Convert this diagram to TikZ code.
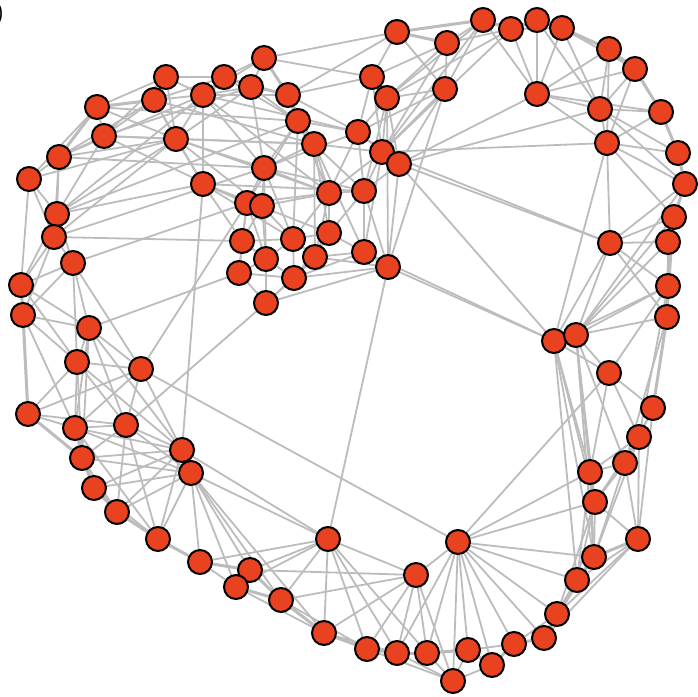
\documentclass[tikz,border=0pt]{standalone}
\usepackage{tikz}
\pgfdeclarelayer{bg}
\pgfsetlayers{bg,main}
\definecolor{nodered}{RGB}{232,66,32}
\definecolor{edgegray}{RGB}{188,188,188}
\tikzset{
  vtx/.style={circle, fill=nodered, draw=black, line width=2pt, minimum size=24pt, inner sep=0pt},
  lnk/.style={draw=edgegray, line width=1.8pt},
  lnkthick/.style={draw=edgegray, line width=3pt},
  lbl/.style={font=\sffamily\fontsize{22}{22}\selectfont, inner sep=0pt}
}
\begin{document}
\begin{tikzpicture}[x=1pt,y=-1pt]
\useasboundingbox (0,0) rectangle (697,697);
\node[lbl, anchor=east] (tag) at (4,14) {)};
\foreach \n/\x/\y in {a1/264/58,a2/166/77,a3/224/77,a4/154/100,a5/203/95,a6/251/87,a7/288/95,a8/97/107,a9/104/136,a10/176/139,
a11/298/121,a12/314/144,a13/59/157,a14/29/179,a15/203/184,a16/264/168,a17/57/214,a18/54/237,a19/73/263,a20/21/285,
a21/23/315,a22/89/328,a23/77/362,a24/141/369,a25/28/414,a26/75/428,a27/126/425,a28/82/458,a29/94/488,a30/117/512,
a31/158/539,a32/182/450,a33/191/473,a34/200/562,a35/250/570,a36/236/587,a37/281/600,a38/328/539,a39/324/633,
c1/247/203,c2/262/206,c3/329/193,c4/242/241,c5/293/239,c6/329/233,c7/266/259,c8/315/257,c9/239/273,c10/294/278,
c11/266/303,c12/358/132,c13/382/152,c14/399/164,c15/364/191,c16/364/252,c17/388/267,c18/372/77,c19/387/98,c20/397/32,
c21/447/43,c22/445/89,
r1/483/20,r2/511/29,r3/537/20,r4/562/28,r5/609/49,r6/635/69,r7/537/94,r8/600/109,r9/661/112,r10/607/143,
r11/678/153,r12/685/184,r13/674/217,r14/610/243,r15/668/242,r16/668/286,r17/667/317,r18/554/341,r19/576/335,r20/609/373,
r21/653/408,r22/639/437,r23/625/463,r24/590/472,r25/595/502,r26/638/539,r27/594/557,r28/577/580,r29/557/614,r30/544/638,
b1/458/542,b2/416/575,b3/367/649,b4/397/653,b5/427/653,b6/468/650,b7/492/665,b8/514/644,b9/453/681}
  \node[vtx] (\n) at (\x,\y) {};
\begin{pgfonlayer}{bg}
\fill[white] (0,0) rectangle (697,697);
\foreach \u/\v in {a1/a3,a1/a6,a1/a5,a1/c20,a1/c18,
a2/a3,a2/a4,a2/a5,a2/a8,a2/a9,a2/a10,
a3/a5,a3/a6,a3/a7,a3/a4,a3/a11,
a4/a5,a4/a8,a4/a9,a4/a10,a4/a15,a4/a13,a4/a12,
a5/a6,a5/a10,a5/a15,a5/a16,a5/a7,a5/c12,a5/c3,
a6/a7,a6/a11,a6/a16,a6/a10,
a7/a12,a7/c3,a7/c12,a7/c20,
a8/a9,a8/a13,a8/a14,a8/a10,a8/a11,
a9/a10,a9/a13,a9/a17,a9/a12,a9/a6,a9/c1,
a10/a15,a10/a17,a10/a18,a10/a16,a10/a12,a10/c2,a10/c3,
a11/a12,a11/a16,a11/c3,a11/c12,a11/c5,a11/c1,a11/a17,
a12/c3,a12/c15,a12/c6,a12/c13,a12/c8,a12/c16,a12/a16,
a13/a14,a13/a17,a13/a18,a13/a10,a13/a5,a13/a16,
a14/a17,a14/a20,a14/a18,a14/a10,
a15/c1,a15/c2,a15/a32,a15/c4,a15/a17,a15/c5,a15/c15,a15/c6,
a16/c1,a16/c2,a16/c3,a16/c5,a16/c7,a16/c15,a16/c12,
a17/a18,a17/a19,a17/a20,a17/a5,
a18/a19,a18/a20,a18/a21,a18/c4,a18/a16,
a19/a20,a19/a21,a19/a22,a19/c1,a19/a23,a19/a24,
a20/a21,a20/a22,a20/a23,
a21/a22,a21/a23,a21/a26,
a22/a23,a22/a24,a22/a26,a22/a27,a22/a32,a22/a28,a22/c9,
a23/a24,a23/a25,a23/a26,a23/a27,a23/a28,a23/a32,
a24/a26,a24/a27,a24/a32,a24/c1,a24/b1,
a25/a26,a25/a27,a25/a28,a25/a24,
a26/a27,a26/a28,a26/a29,a26/a32,a26/a33,a26/a31,
a27/a28,a27/a30,a27/a32,a27/a33,a27/c11,a27/a31,
a28/a32,a28/a33,a28/a30,
a29/a32,a29/a33,a29/a31,
a30/a32,a30/a33,
a31/a32,a31/a33,
a32/a33,a32/a38,
a33/a34,a33/a35,a33/a36,a33/a37,a33/a39,a33/a38,
a34/a36,a34/a38,
a35/a36,a35/b2,a35/a38,
a36/a38,a36/a39,
a37/a38,a37/b2,a37/b3,
a38/a39,a38/b2,a38/b3,a38/b4,a38/b5,a38/c17,
a39/b2,a39/b4,
b2/b3,b2/b4,b2/b5,b2/b9,b2/b1,
b3/b9,b4/b9,b5/b9,
b6/b8,b6/b9,b7/b9,
b8/r29,
b1/b4,b1/b5,b1/b6,b1/b7,b1/b8,b1/b9,b1/r30,b1/r29,b1/r28,b1/r27,b1/r25,b1/r24,b1/r20,
r30/r26,r30/r28,r30/r27,
r29/r26,r29/r25,r29/r27,
r28/r26,r28/r25,r28/r24,r28/r18,
r27/r26,r27/r25,r27/r24,r27/r23,r27/r18,r27/r19,r27/r22,
r26/r23,r26/r22,r26/r21,r26/r25,
r25/r24,r25/r23,r25/r22,r25/r18,r25/r19,
r24/r23,r24/r18,r24/r19,r24/r20,r24/r22,
r23/r22,r23/r21,r23/r17,r23/r19,
r22/r21,r22/r20,r22/r16,
r21/r20,
r20/r18,r20/r19,r20/r16,
r19/r18,r19/r14,r19/r15,r19/r16,r19/r17,r19/r13,r19/r12,
r18/r14,r18/r16,r18/c17,r18/c16,r18/c14,r18/r10,
r14/r15,r14/r13,r14/r12,r14/r10,r14/r16,r14/r17,r14/c14,r14/c13,
r15/r17,r16/r13,r17/r13,
r5/r8,r5/r10,r6/r8,r6/r10,r9/r8,r9/r10,r11/r8,r11/r10,r12/r8,r12/r10,r8/r10,r8/r7,r8/r4,r8/r3,r10/r7,r10/r13,
r7/r1,r7/r2,r7/r3,r7/r4,r7/r9,r7/c14,r7/r6,r7/r5,
r1/c20,r1/c21,r1/c22,r2/c21,r2/c19,r1/c19,r2/r4,r4/r6,r3/r5,r2/c13,r1/c13,
c20/c18,c20/c22,c21/c22,c21/c19,c21/c18,c21/c13,c22/c19,c22/c14,c22/c13,c22/c17,c22/c12,
c18/c19,c18/c12,c18/c13,c18/a7,
c19/c13,c19/c14,c19/c12,c19/c15,c19/c17,
c12/c13,c12/c14,c12/c15,c12/c3,
c13/c14,c13/c15,c13/c16,c13/r10,c13/c3,
c14/c15,c14/c17,c14/r8,
c15/c16,c15/c17,c15/c3,c15/c6,
c16/c17,c16/c6,c16/c8,c16/c10,
c17/c8,c17/c10,c17/c11,
c1/c2,c1/c4,c1/c9,c1/c7,c1/c3,
c2/c4,c2/c5,c2/c3,c2/c7,
c3/c5,c3/c6,c3/c8,
c4/c7,c4/c9,c4/c5,
c5/c6,c5/c7,c5/c8,c5/c10,
c6/c8,c6/c10,
c7/c9,c7/c10,c7/c11,
c8/c10,c8/c11,
c9/c11,c9/c10,c10/c11}
  \draw[lnk] (\u) -- (\v);
\foreach \u/\v in {a1/a7,a7/a11,a2/a4,a8/a4,a13/a8,a20/a21,a21/a25,a25/a28,a28/a29,a29/a30,a30/a31,a31/a34,a34/a35,a35/a37,a36/a37,a37/a39,a39/b3,b3/b4,b4/b5,b5/b6,b6/b7,b7/b8,b8/r30,r30/r29,r29/r28,r28/r27,r27/r26,r21/r17,r17/r16,r16/r15,r15/r13,r13/r12,r12/r11,r11/r9,r9/r6,r6/r5,r5/r4,r4/r3,r3/r2,r2/r1,r1/c20,c20/c21}
  \draw[lnkthick] (\u) -- (\v);
\end{pgfonlayer}
\end{tikzpicture}
\end{document}
